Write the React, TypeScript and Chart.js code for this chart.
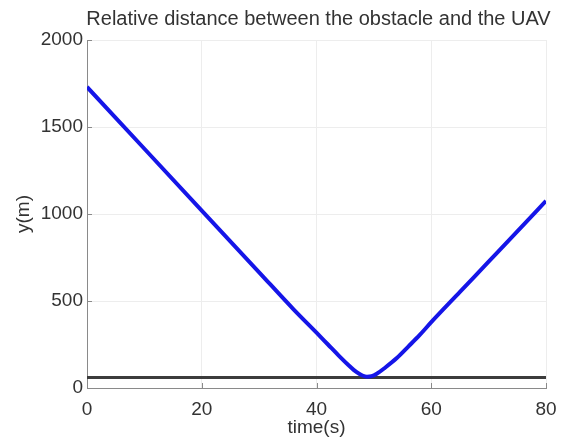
import React, { useEffect, useRef } from "react";
import { Chart, registerables } from "chart.js";

Chart.register(...registerables);

// Relative distance (m) of the UAV to the obstacle over time (s)
const timeS = [0, 10, 20, 30, 36, 40, 42, 44, 45.5, 47, 48, 48.8, 49.6, 50.5, 52, 54, 56, 58, 60, 65, 70, 75, 80];
const distanceM = [1730, 1375, 1020, 665, 452, 318, 250, 182, 134, 91, 72, 65, 68, 82, 118, 172, 238, 305, 378, 552, 726, 900, 1075];

// Safety distance threshold
const thresholdTime = [0, 80];
const thresholdM = [60, 60];

const xTicks = [0, 20, 40, 60, 80];
const yTicks = [0, 500, 1000, 1500, 2000];

const TITLE = "Relative distance between the obstacle and the UAV";
const X_TITLE = "time(s)";
const Y_TITLE = "y(m)";
const FONT = '"Liberation Sans", Arial, Helvetica, sans-serif';
const TEXT = "#333333";
const AXIS = "#8a8a8a";

const decorations = {
  id: "decorations",
  afterDraw(chart: any) {
    const { ctx, chartArea } = chart;
    const { left, right, top, bottom } = chartArea;
    const xs = chart.scales.x;
    const ys = chart.scales.y;
    ctx.save();
    // inward tick marks
    ctx.strokeStyle = AXIS;
    ctx.lineWidth = 1;
    ctx.beginPath();
    xTicks.forEach((v) => {
      const px = Math.round(xs.getPixelForValue(v)) + 0.5;
      ctx.moveTo(px, bottom);
      ctx.lineTo(px, bottom - 5);
    });
    yTicks.forEach((v) => {
      const py = Math.round(ys.getPixelForValue(v)) + 0.5;
      ctx.moveTo(left, py);
      ctx.lineTo(left + 5, py);
    });
    ctx.stroke();

    ctx.fillStyle = TEXT;
    ctx.textAlign = "center";
    ctx.textBaseline = "middle";
    ctx.font = `20px ${FONT}`;
    ctx.fillText(TITLE, (left + right) / 2 + 2, 19);

    ctx.font = `19px ${FONT}`;
    ctx.fillText(X_TITLE, (left + right) / 2, 428);

    ctx.translate(24, (top + bottom) / 2);
    ctx.rotate(-Math.PI / 2);
    ctx.fillText(Y_TITLE, 0, 0);
    ctx.restore();
  },
};

export default function App() {
  const canvasRef = useRef<HTMLCanvasElement | null>(null);

  useEffect(() => {
    if (!canvasRef.current) return;
    const chart = new Chart(canvasRef.current, {
      type: "line",
      data: {
        datasets: [
          {
            label: "relative distance",
            data: timeS.map((t, i) => ({ x: t, y: distanceM[i] })),
            borderColor: "#1515e8",
            borderWidth: 4,
            pointRadius: 0,
            cubicInterpolationMode: "monotone",
            fill: false,
            order: 0,
          },
          {
            label: "threshold",
            data: thresholdTime.map((t, i) => ({ x: t, y: thresholdM[i] })),
            borderColor: "#3c3c3c",
            borderWidth: 3,
            pointRadius: 0,
            fill: false,
            order: 1,
          },
        ],
      },
      options: {
        responsive: false,
        animation: false,
        layout: { padding: { top: 40, right: 16, left: 0, bottom: 0 } },
        plugins: {
          legend: { display: false },
          title: { display: false },
          tooltip: { enabled: false },
        },
        scales: {
          x: {
            type: "linear",
            min: 0,
            max: 80,
            afterBuildTicks: (scale: any) => {
              scale.ticks = xTicks.map((v) => ({ value: v }));
            },
            afterFit: (scale: any) => {
              scale.height = 49;
              scale.paddingLeft = 0;
              scale.paddingRight = 0;
            },
            grid: { color: "#ededed", drawTicks: false },
            border: { color: AXIS, width: 1 },
            ticks: {
              padding: 10,
              color: TEXT,
              font: { size: 19, family: FONT },
              maxRotation: 0,
              callback: (v: any) => String(v),
            },
          },
          y: {
            type: "linear",
            min: 0,
            max: 2000,
            afterBuildTicks: (scale: any) => {
              scale.ticks = yTicks.map((v) => ({ value: v }));
            },
            afterFit: (scale: any) => {
              scale.width = 87;
              scale.paddingTop = 0;
              scale.paddingBottom = 0;
            },
            grid: { color: "#ededed", drawTicks: false },
            border: { color: AXIS, width: 1 },
            ticks: {
              padding: 4,
              color: TEXT,
              font: { size: 19, family: FONT },
              callback: (v: any) => String(v),
            },
          },
        },
      },
      plugins: [decorations],
    });
    return () => chart.destroy();
  }, []);

  return (
    <div style={{ position: "absolute", left: 0, top: 0, width: 562, height: 437, background: "#fff" }}>
      <canvas ref={canvasRef} width={562} height={437} />
    </div>
  );
}
